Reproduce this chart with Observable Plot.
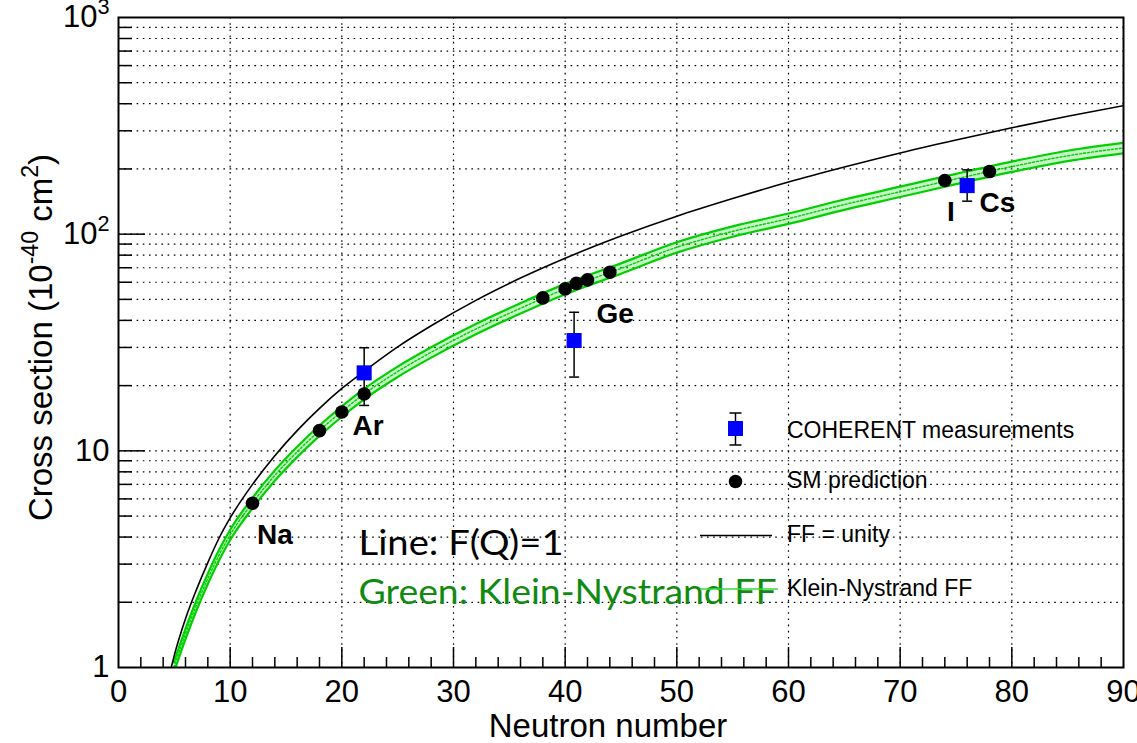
<!DOCTYPE html>
<html><head><meta charset="utf-8">
<script src="https://cdn.jsdelivr.net/npm/d3@7"></script>
<script src="https://cdn.jsdelivr.net/npm/@observablehq/plot@0.6"></script>
<style>body{margin:0;background:#fff}#chart{width:1137px;height:743px}</style>
</head><body><div id="chart"></div>
<script>
// ---------- data ----------
// FF = unity curve (black line)
const ffN     = [4.72, 5, 6, 7, 8, 9, 10, 12, 14, 16, 18, 20, 22, 25, 28, 32, 36, 40, 45, 50, 55, 60, 65, 70, 75, 80, 85, 90];
const ffSigma = [1.0, 1.14, 1.68, 2.3, 3.05, 3.95, 4.9, 7.0, 9.5, 12.4, 15.7, 19.4, 23.3, 30.2, 37.8, 49.5, 62.7, 77.4, 98, 121, 146, 174, 204, 237, 272, 310, 350, 392];
// Klein-Nystrand FF band (green), centre values
const knN     = [4.95, 6, 7, 8, 9, 10, 12, 14, 16, 18, 20, 22, 25, 28, 32, 36, 40, 45, 50, 55, 60, 65, 70, 75, 80, 85, 90];
const knSigma = [1.0, 1.43, 1.95, 2.57, 3.3, 4.1, 5.75, 7.7, 9.9, 12.4, 15.2, 18.3, 23.2, 28.5, 36.5, 45.5, 55.9, 69.5, 87, 103, 118, 137, 157, 180, 205, 230, 250];
const knRelUnc = 0.055;
// SM predictions (black dots)
const smN     = [12, 18, 20, 22, 38, 40, 41, 42, 44, 74, 78];
const smSigma = [5.73, 12.4, 15.1, 18.3, 50.8, 55.9, 59.3, 61.5, 66.7, 176.8, 194.5];
// COHERENT measurements (blue squares)
const cohN     = [22, 40.8, 76];
const cohSigma = [22.9, 32.3, 167.6];
const cohLo    = [16.2, 21.9, 142];
const cohHi    = [29.9, 43.6, 198];
// isotope labels
const isoText  = ["Na", "Ar", "Ge", "I", "Cs"];
const isoN     = [12.4, 20.95, 42.8, 74.2, 77.1];
const isoSigma = [3.73, 11.8, 39.1, 115.6, 126];
// tick labels
const xTickVals = [0, 10, 20, 30, 40, 50, 60, 70, 80, 90];
const yTickVals = [1, 10, 100, 1000];
const yTickText = ["1", "10", "10^{2}", "10^{3}"];
const legendText = ["COHERENT measurements", "SM prediction", "FF = unity", "Klein-Nystrand FF"];

// ---------- build tables ----------
const ff  = ffN.map((n, i) => ({N: n, s: ffSigma[i]}));
const kn  = knN.map((n, i) => ({N: n, s: knSigma[i], lo: knSigma[i] * (1 - knRelUnc), hi: knSigma[i] * (1 + knRelUnc)}));
const sm  = smN.map((n, i) => ({N: n, s: smSigma[i]}));
const coh = cohN.map((n, i) => ({N: n, s: cohSigma[i], lo: cohLo[i], hi: cohHi[i]}));
const iso = isoText.map((t, i) => ({t, N: isoN[i], s: isoSigma[i]}));
const yLab = yTickVals.map((v, i) => ({v, t: yTickText[i]}));

const W = 1137, H = 743, mL = 118, mR = 14, mT = 17, mB = 76;
const pW = W - mL - mR, pH = H - mT - mB;
const decades = [1, 10, 100];
const gridY = decades.flatMap(d => d3.range(1, 10).map(k => k * d)).filter(v => v > 1);
const minorY = gridY.filter(v => !yTickVals.includes(v));
const gridX = d3.range(10, 90, 10);
const minorX = d3.range(2, 90, 2).filter(v => v % 10 !== 0);
const font = "Liberation Sans, Arial, Helvetica, sans-serif";
const dash = "1.6,4.6";
const capSym = {draw(ctx, size) { const w = Math.sqrt(size / Math.PI); ctx.moveTo(-w, 0); ctx.lineTo(w, 0); }};
const green = "#00d000";

const plot = Plot.plot({
  width: W, height: H,
  marginLeft: mL, marginRight: mR, marginTop: mT, marginBottom: mB,
  style: {fontFamily: font, background: "white", overflow: "visible"},
  x: {domain: [0, 90], axis: null},
  y: {type: "log", domain: [1, 1000], axis: null},
  marks: [
    Plot.ruleY(gridY, {stroke: "#000", strokeWidth: 1.2, strokeDasharray: dash}),
    Plot.ruleX(gridX, {stroke: "#000", strokeWidth: 1.2, strokeDasharray: dash}),
    Plot.tickY(minorY, {y: d => d, insetRight: pW - 14, stroke: "#000", strokeWidth: 1.5}),
    Plot.tickY([10, 100], {y: d => d, insetRight: pW - 27, stroke: "#000", strokeWidth: 1.5}),
    Plot.tickX(minorX, {x: d => d, insetTop: pH - 10, stroke: "#000", strokeWidth: 1.5}),
    Plot.tickX(gridX, {x: d => d, insetTop: pH - 20, stroke: "#000", strokeWidth: 1.5}),
    // green band
    Plot.areaY(kn, {x: "N", y1: "lo", y2: "hi", fill: green, fillOpacity: 0.22, curve: "monotone-x", clip: true}),
    Plot.line(kn, {x: "N", y: "lo", stroke: green, strokeWidth: 2.2, curve: "monotone-x", clip: true}),
    Plot.line(kn, {x: "N", y: "hi", stroke: green, strokeWidth: 2.2, curve: "monotone-x", clip: true}),
    Plot.line(kn, {x: "N", y: "s", stroke: green, strokeWidth: 1.4, strokeDasharray: "2,2", curve: "monotone-x", clip: true}),
    // FF = 1
    Plot.line(ff, {x: "N", y: "s", stroke: "#000", strokeWidth: 1.6, curve: "monotone-x", clip: true}),
    // SM dots
    Plot.dot(sm, {x: "N", y: "s", r: 6.8, fill: "#000"}),
    // COHERENT
    Plot.ruleX(coh, {x: "N", y1: "lo", y2: "hi", stroke: "#000", strokeWidth: 1.5}),
    Plot.dot(coh, {x: "N", y: "lo", symbol: capSym, r: 5, stroke: "#000", strokeWidth: 1.5}),
    Plot.dot(coh, {x: "N", y: "hi", symbol: capSym, r: 5, stroke: "#000", strokeWidth: 1.5}),
    Plot.dot(coh, {x: "N", y: "s", symbol: "square", r: 8.5, fill: "#0000ff"}),
    // isotope labels
    Plot.text(iso, {x: "N", y: "s", text: "t", textAnchor: "start", lineAnchor: "bottom", fontSize: 28, fontWeight: "bold", fill: "#000"}),
    // annotations
    Plot.text(["Line: F(Q)=1"], {x: 21.5, y: 3.29, textAnchor: "start", lineAnchor: "bottom", fontSize: 35, fontFamily: "Lato, Open Sans, sans-serif", fill: "#000"}),
    Plot.text(["Green: Klein-Nystrand FF"], {x: 21.5, y: 1.97, textAnchor: "start", lineAnchor: "bottom", fontSize: 35, fontFamily: "Lato, Open Sans, sans-serif", fill: "#118a11"}),
    // frame
    Plot.frame({stroke: "#000", strokeWidth: 2}),
    // axis tick labels
    Plot.text(xTickVals, {x: d => d, frameAnchor: "bottom", dy: 12, lineAnchor: "top", textAnchor: "middle", fontSize: 31, fill: "#000"}),
    Plot.text(yLab, {y: "v", text: "t", frameAnchor: "left", dx: -9, textAnchor: "end", lineAnchor: "middle", fontSize: 31, fill: "#000"}),
    // axis titles
    Plot.text(["Neutron number"], {frameAnchor: "bottom", dx: -13, dy: 69, textAnchor: "middle", lineAnchor: "bottom", fontSize: 33, fill: "#000"}),
    Plot.text(["Cross section (10^{-40} cm^{2})"], {frameAnchor: "left", dx: -77, dy: -5, rotate: -90, textAnchor: "middle", lineAnchor: "middle", fontSize: 33, fill: "#000"})
  ]
});

// superscripts "^{...}"
d3.select(plot).selectAll("text").each(function () {
  const s = this.textContent;
  if (!s.includes("^{")) return;
  const t = d3.select(this);
  t.text(null);
  let shift = 0;
  for (const p of s.split(/(\^\{[^}]*\})/)) {
    if (!p) continue;
    if (p.startsWith("^{")) {
      t.append("tspan").attr("font-size", "0.7em").attr("dy", "-0.6em").text(p.slice(2, -1));
      shift = 1;
    } else {
      const ts = t.append("tspan").text(p);
      if (shift) ts.attr("dy", "0.42em");
      shift = 0;
    }
  }
});
// annotation widths
d3.select(plot).selectAll("text").each(function () {
  const s = this.textContent;
  if (s === "Line: F(Q)=1") d3.select(this).attr("textLength", 205).attr("lengthAdjust", "spacingAndGlyphs");
  if (s === "Green: Klein-Nystrand FF") d3.select(this).attr("textLength", 418).attr("lengthAdjust", "spacingAndGlyphs");
});

// legend
const svg = d3.select(plot);
const lg = svg.append("g").attr("font-family", font).attr("font-size", 23).attr("fill", "#000").attr("text-anchor", "start");
const lx = 735.5, tx = 787;
lg.append("line").attr("x1", lx).attr("x2", lx).attr("y1", 413).attr("y2", 445).attr("stroke", "#000").attr("stroke-width", 1.5);
lg.append("line").attr("x1", lx - 6).attr("x2", lx + 6).attr("y1", 413).attr("y2", 413).attr("stroke", "#000").attr("stroke-width", 1.5);
lg.append("line").attr("x1", lx - 6).attr("x2", lx + 6).attr("y1", 445).attr("y2", 445).attr("stroke", "#000").attr("stroke-width", 1.5);
lg.append("rect").attr("x", lx - 7.5).attr("y", 421).attr("width", 15).attr("height", 15).attr("fill", "#0000ff");
lg.append("circle").attr("cx", lx).attr("cy", 481.5).attr("r", 6.8).attr("fill", "#000");
lg.append("line").attr("x1", 700).attr("x2", 772).attr("y1", 535.5).attr("y2", 535.5).attr("stroke", "#000").attr("stroke-width", 1.5);
lg.append("line").attr("x1", 700).attr("x2", 778).attr("y1", 589).attr("y2", 589).attr("stroke", "#33dd33").attr("stroke-width", 1.5);
const ly = [438, 488, 542, 596];
legendText.forEach((t, i) => lg.append("text").attr("x", tx).attr("y", ly[i]).attr("text-anchor", "start").text(t));

document.getElementById("chart").appendChild(plot);
</script>
</body></html>
